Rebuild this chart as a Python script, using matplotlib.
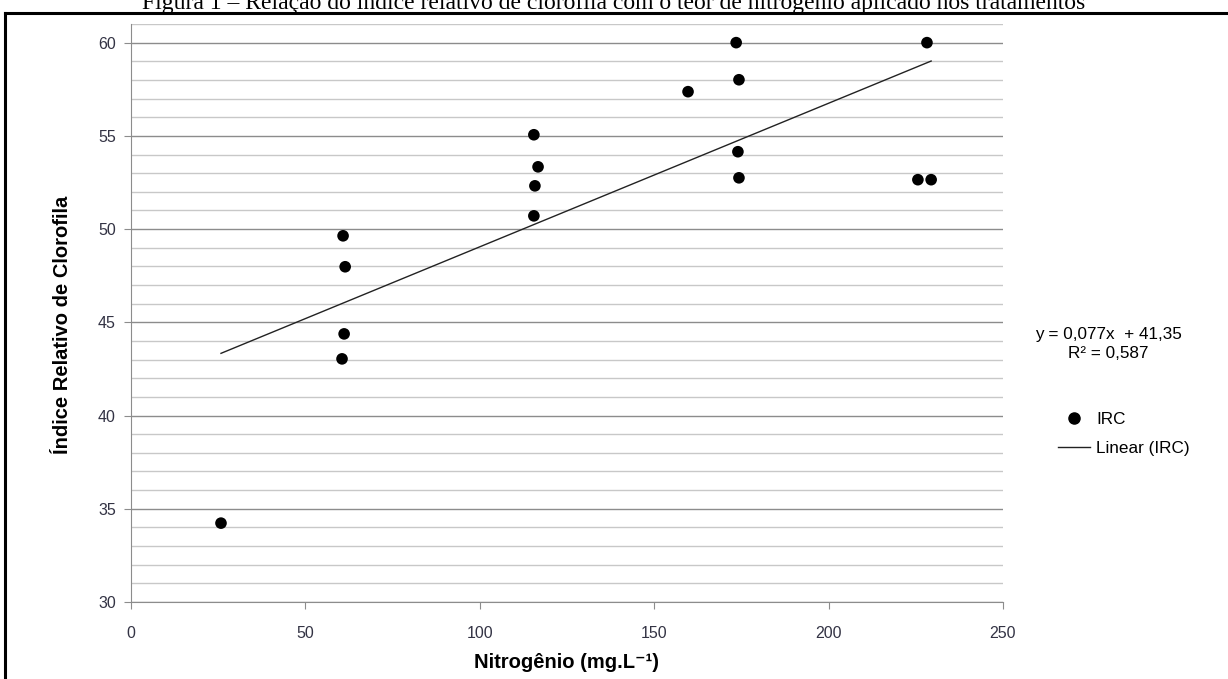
import matplotlib.pyplot as plt
from matplotlib.lines import Line2D
from matplotlib.ticker import MultipleLocator
import numpy as np

# data
nitrogen = [25.8, 60.8, 61.4, 61.1, 60.5, 115.5, 116.7, 115.8, 115.5, 159.7,
            173.5, 174.3, 174.0, 174.3, 225.6, 229.4, 228.2]
irc = [34.23, 49.64, 47.98, 44.38, 43.04, 55.06, 53.34, 52.32, 50.71, 57.37,
       60.0, 58.01, 54.15, 52.75, 52.65, 52.65, 60.0]
slope = 0.077
intercept = 41.35
r2 = 0.587
x_ticks = [0, 50, 100, 150, 200, 250]
y_ticks = [30, 35, 40, 45, 50, 55, 60]

plt.rcParams['font.family'] = ['Liberation Sans', 'DejaVu Sans']
fig = plt.figure(figsize=(12.28, 6.79), dpi=100)
ax = fig.add_axes([131 / 1228, 1 - 602 / 679, 872 / 1228, 578 / 679])

# trend line over the data range
xs = np.array([min(nitrogen), max(nitrogen)])
ax.plot(xs, slope * xs + intercept, color='#222222', lw=1.0, zorder=3)
ax.scatter(nitrogen, irc, s=70, color='black', zorder=4, edgecolors='none')

ax.set_xlim(0, 250)
ax.set_ylim(30, 61)
ax.set_xticks(x_ticks)
ax.set_yticks(y_ticks)
ax.yaxis.set_minor_locator(MultipleLocator(1))
ax.grid(axis='y', which='major', color='#8c8c8c', lw=1.0)
ax.grid(axis='y', which='minor', color='#c8c8c8', lw=1.0)
ax.set_axisbelow(True)
ax.tick_params(which='major', direction='out', length=5, color='#8c8c8c',
               labelsize=11.5, labelcolor='#333344', pad=6)
ax.tick_params(axis='y', which='minor', length=0)
ax.tick_params(axis='x', pad=12)
for s in ['top', 'right']:
    ax.spines[s].set_visible(False)
for s in ['left', 'bottom']:
    ax.spines[s].set_color('#8c8c8c')

# axis titles
fig.text(62 / 1228, 1 - 325 / 679, 'Índice Relativo de Clorofila', rotation=90,
         ha='center', va='center', fontsize=14.5, fontweight='bold')
fig.text(567 / 1228, 1 - 663 / 679, 'Nitrogênio (mg.L⁻¹)', ha='center', va='center',
         fontsize=14.5, fontweight='bold')

# equation and legend on the right
fig.text(1108 / 1228, 1 - 334 / 679, 'y = 0,077x  + 41,35', ha='center', va='center', fontsize=12.3)
fig.text(1108 / 1228, 1 - 353 / 679, 'R² = 0,587', ha='center', va='center', fontsize=12.3)
handles = [Line2D([], [], marker='o', ls='none', color='black', markersize=8),
           Line2D([], [], color='#222222', lw=1.0)]
fig.legend(handles, ['IRC', 'Linear (IRC)'], loc='center left',
           bbox_to_anchor=(1058 / 1228, 1 - 434 / 679), frameon=False,
           borderpad=0, borderaxespad=0, fontsize=12.3, handlelength=1.9,
           handletextpad=0.35, labelspacing=0.8)

# caption cut off at the top edge, plus frame lines
fig.text(614 / 1228, 1 - 9 / 679, 'Figura 1 – Relação do índice relativo de clorofila com o teor de nitrogênio aplicado nos tratamentos',
         ha='center', va='baseline', fontsize=17, family='Liberation Serif')
fig.add_artist(Line2D([5 / 1228, 1], [1 - 13 / 679, 1 - 13 / 679], color='black', lw=2.2))
fig.add_artist(Line2D([5 / 1228, 5 / 1228], [0, 1 - 13 / 679], color='black', lw=2.2))

fig.savefig('out.png', dpi=100)
